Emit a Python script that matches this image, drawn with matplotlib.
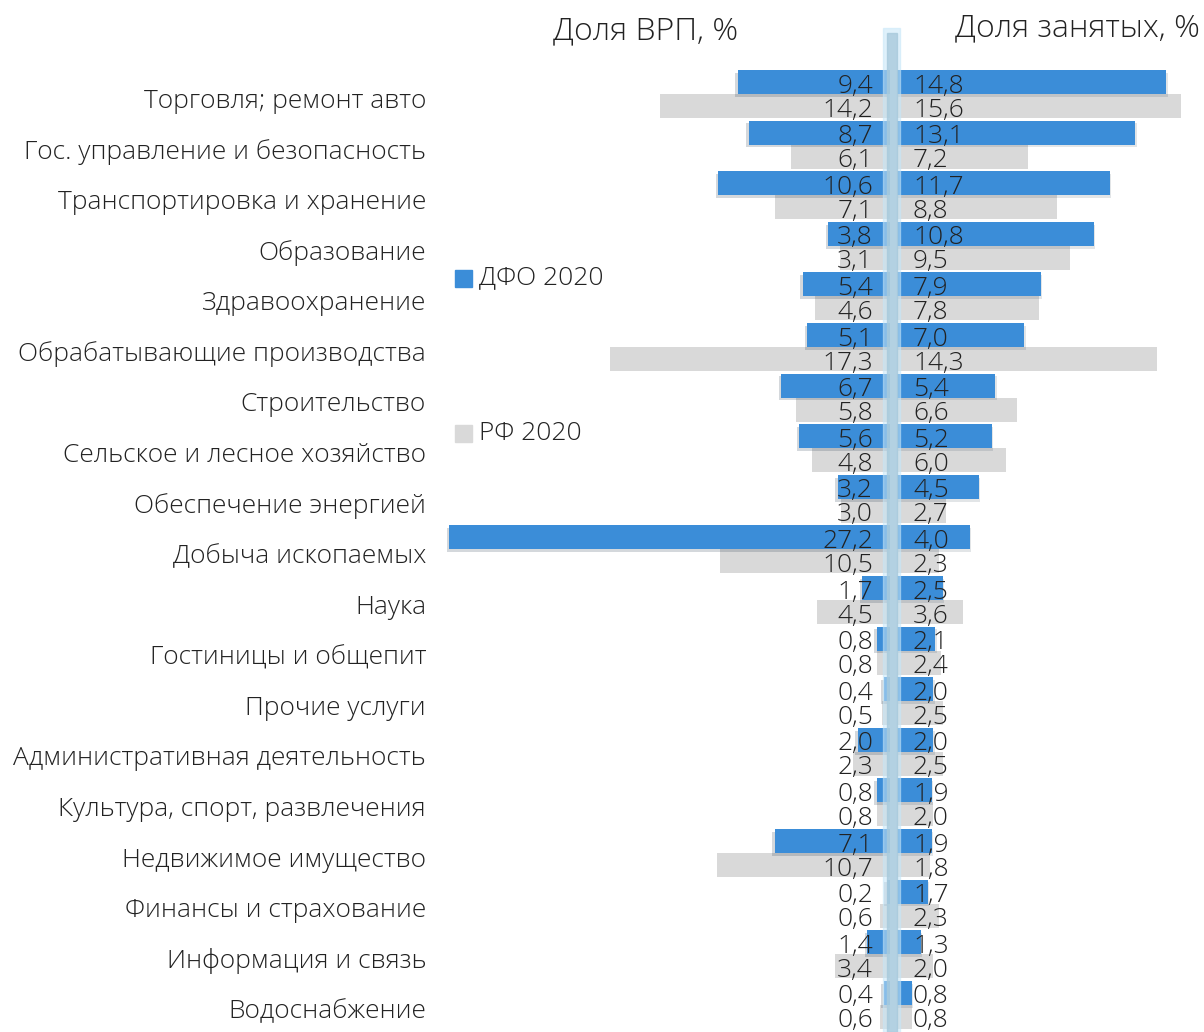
from matplotlib import pyplot as plt
from matplotlib.patches import Rectangle
import matplotlib.patheffects as pe

cats = ["Торговля; ремонт авто", "Гос. управление и безопасность", "Транспортировка и хранение",
        "Образование", "Здравоохранение", "Обрабатывающие производства", "Строительство",
        "Сельское и лесное хозяйство", "Обеспечение энергией", "Добыча ископаемых", "Наука",
        "Гостиницы и общепит", "Прочие услуги", "Административная деятельность",
        "Культура, спорт, развлечения", "Недвижимое имущество", "Финансы и страхование",
        "Информация и связь", "Водоснабжение"]
grp_dfo = [9.4, 8.7, 10.6, 3.8, 5.4, 5.1, 6.7, 5.6, 3.2, 27.2, 1.7, 0.8, 0.4, 2.0, 0.8, 7.1, 0.2, 1.4, 0.4]
grp_rf = [14.2, 6.1, 7.1, 3.1, 4.6, 17.3, 5.8, 4.8, 3.0, 10.5, 4.5, 0.8, 0.5, 2.3, 0.8, 10.7, 0.6, 3.4, 0.6]
emp_dfo = [14.8, 13.1, 11.7, 10.8, 7.9, 7.0, 5.4, 5.2, 4.5, 4.0, 2.5, 2.1, 2.0, 2.0, 1.9, 1.9, 1.7, 1.3, 0.8]
emp_rf = [15.6, 7.2, 8.8, 9.5, 7.8, 14.3, 6.6, 6.0, 2.7, 2.3, 3.6, 2.4, 2.5, 2.5, 2.0, 1.8, 2.3, 2.0, 0.8]

BLUE = "#3b8dd8"
GREY = "#d9d9d9"
W, H = 1204, 1032

plt.rcParams['font.family'] = ['Open Sans', 'DejaVu Sans']
plt.rcParams['font.weight'] = 'light'

fig = plt.figure(figsize=(W / 100, H / 100), dpi=100)

n = len(cats)
ys = list(range(n))
hb = 0.474
ylim = ((H - 94) / 50.6, -94 / 50.6)

# left side: GRP share
axl = fig.add_axes([440 / W, 0, (890 - 440) / W, 1])
axl.set_xlim((890 - 440) / 16.2, 0)
axl.set_ylim(*ylim)
axl.barh([y + hb / 2 for y in ys], grp_rf, height=hb, color=GREY)
bl = axl.barh([y - hb / 2 for y in ys], grp_dfo, height=hb, color=BLUE)
for b in bl:
    b.set_path_effects([pe.SimplePatchShadow(offset=(-2, -2), alpha=0.18), pe.Normal()])

# right side: employment share
axr = fig.add_axes([897 / W, 0, (W - 897) / W, 1])
axr.set_xlim(0, (W - 897) / 18.2)
axr.set_ylim(*ylim)
axr.barh([y + hb / 2 for y in ys], emp_rf, height=hb, color=GREY)
br = axr.barh([y - hb / 2 for y in ys], emp_dfo, height=hb, color=BLUE)
for b in br:
    b.set_path_effects([pe.SimplePatchShadow(offset=(1, -2), alpha=0.12), pe.Normal()])

fmt = lambda v: f"{v:.1f}".replace(".", ",")
for i in ys:
    for val, dy in ((grp_dfo[i], -hb / 2), (grp_rf[i], hb / 2)):
        axl.annotate(fmt(val), (0, i + dy + 0.08), xytext=(-17, 0), textcoords='offset pixels',
                     ha='right', va='center', fontsize=19, color='#222222')
    for val, dy in ((emp_dfo[i], -hb / 2), (emp_rf[i], hb / 2)):
        axr.annotate(fmt(val), (0, i + dy + 0.08), xytext=(16, 0), textcoords='offset pixels',
                     ha='left', va='center', fontsize=19, color='#222222')

axl.set_yticks([y + 0.08 for y in ys])
axl.set_yticklabels(cats, fontsize=19, color='#222222')
axl.tick_params(axis='y', length=0, pad=10)
axl.tick_params(axis='x', bottom=False, labelbottom=False)
axr.set_yticks([])
axr.set_xticks([])
for ax in (axl, axr):
    for s in ax.spines.values():
        s.set_visible(False)
    ax.patch.set_alpha(0)

# glowing centre line
fig.patches.append(Rectangle((883 / W, 0), 17 / W, (H - 28) / H, transform=fig.transFigure,
                             color='#c6e6f8', alpha=0.55, zorder=5))
fig.patches.append(Rectangle((887 / W, 0), 10 / W, (H - 33) / H, transform=fig.transFigure,
                             color='#a8cadc', alpha=0.8, zorder=6))

# titles
fig.text(646 / W, 1 - 31 / H, "Доля ВРП, %", ha='center', va='center', fontsize=23, color='#222222')
fig.text(1077 / W, 1 - 28 / H, "Доля занятых, %", ha='center', va='center', fontsize=23, color='#222222')

# legend
fig.patches.append(Rectangle((455 / W, 1 - 287 / H), 17 / W, 17 / H, transform=fig.transFigure, color=BLUE))
fig.text(479 / W, 1 - 278 / H, "ДФО 2020", ha='left', va='center', fontsize=19, color='#222222')
fig.patches.append(Rectangle((455 / W, 1 - 442 / H), 17 / W, 17 / H, transform=fig.transFigure, color=GREY))
fig.text(479 / W, 1 - 433 / H, "РФ 2020", ha='left', va='center', fontsize=19, color='#222222')

fig.savefig("out.png", dpi=100)
